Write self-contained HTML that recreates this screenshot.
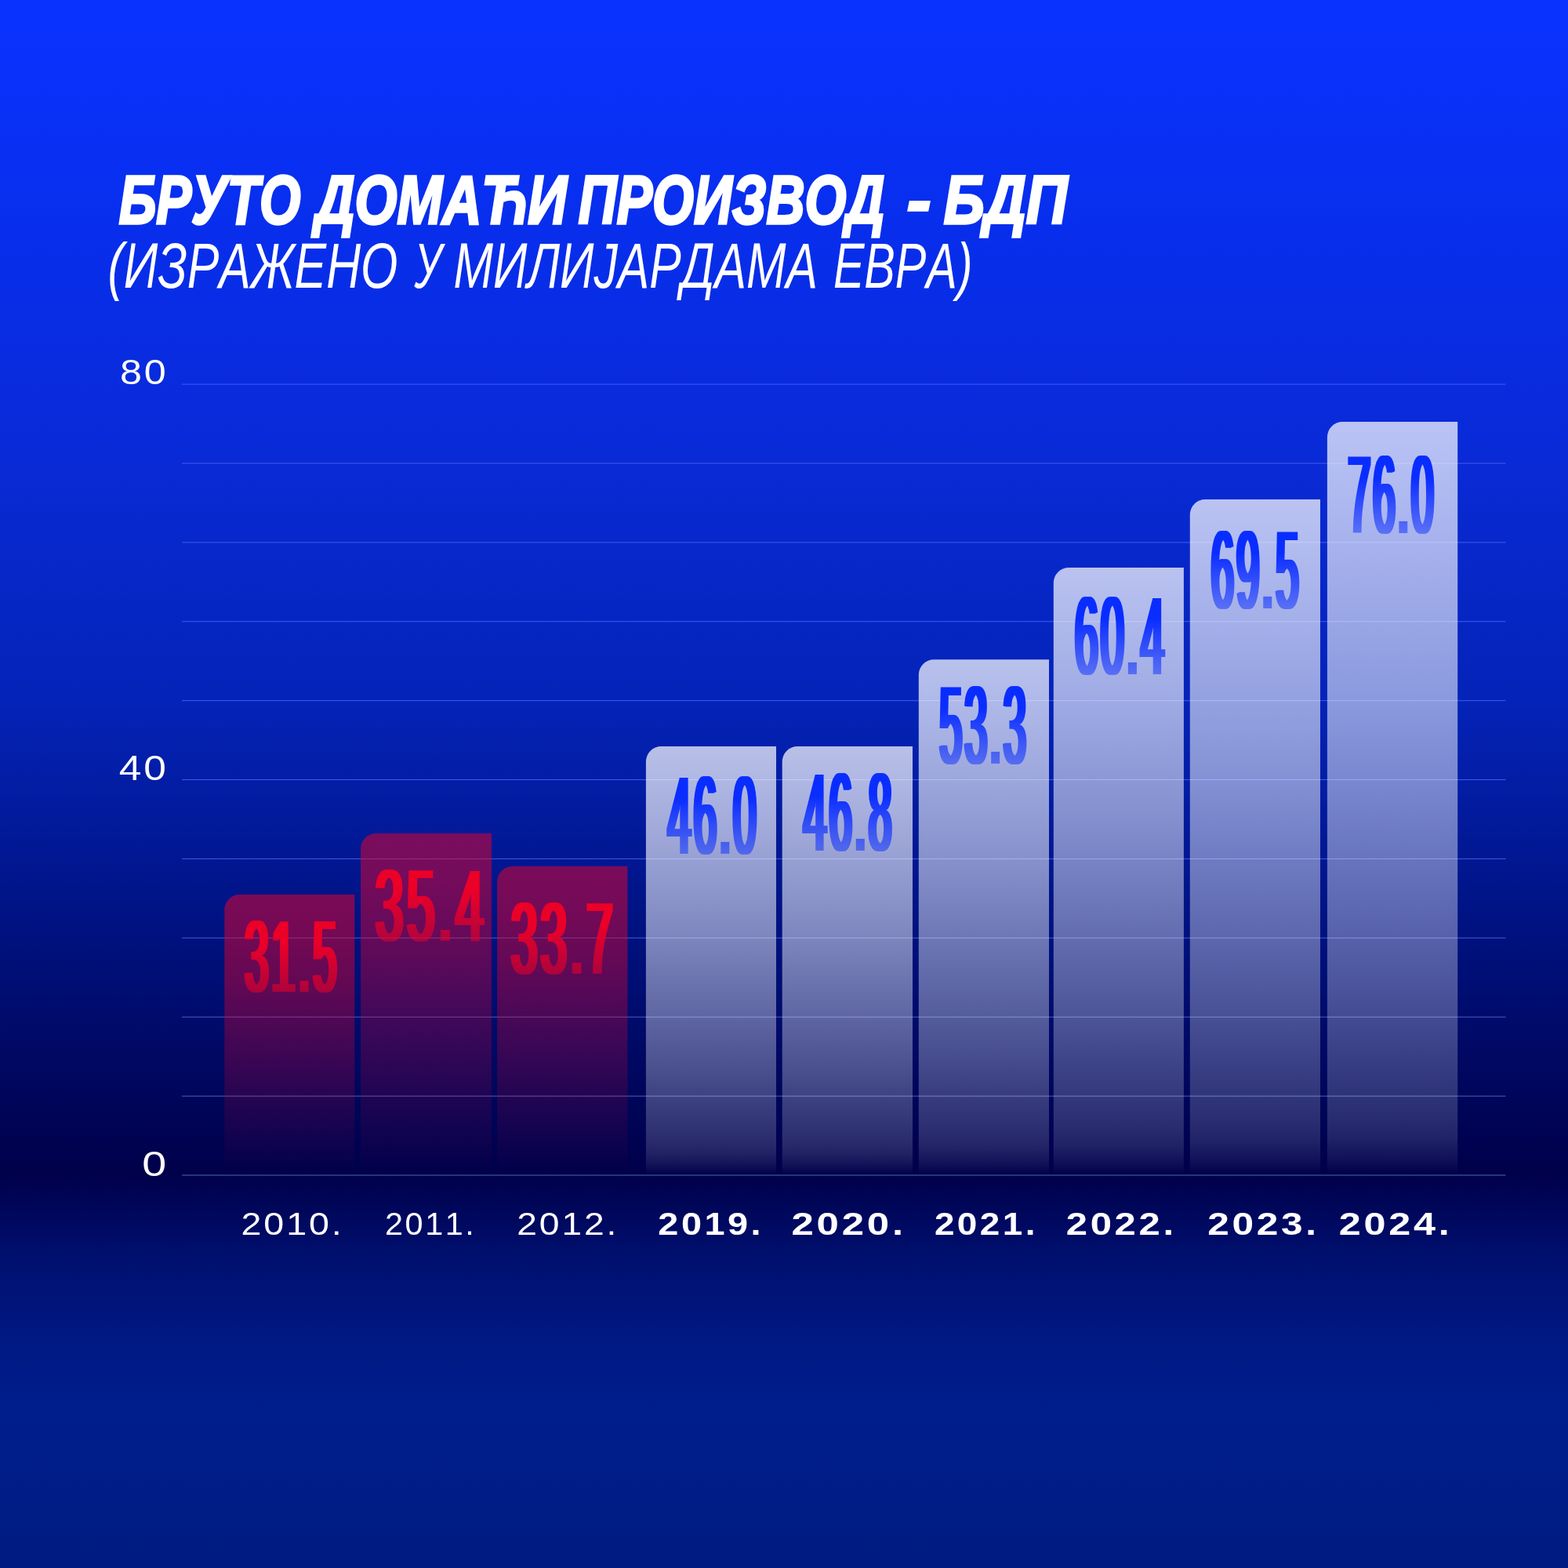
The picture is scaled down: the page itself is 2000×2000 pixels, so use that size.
<!DOCTYPE html>
<html lang="sr">
<head>
<meta charset="utf-8">
<title>Бруто домаћи производ - БДП</title>
<style>
html,body{margin:0;padding:0;width:2000px;height:2000px;background:#0a32ff;}body{position:relative;overflow:hidden;}
svg{display:block;position:absolute;left:0;top:0;}
text{font-family:"Liberation Sans",sans-serif;white-space:pre;font-kerning:none;font-variant-ligatures:none;}
.t{font-weight:700;font-style:italic;fill:#fff;stroke:#fff;stroke-width:3.40px;stroke-linejoin:miter;}
.s{font-weight:400;font-style:italic;fill:#fff;}
.yl{font-weight:400;fill:#fff;}
.xl{font-weight:400;fill:#fff;}
.xb{font-weight:700;fill:#fff;}
.n{font-weight:400;}
</style>
</head>
<body>
<svg width="2000" height="2000" viewBox="0 0 2000 2000" role="img" aria-label="Бруто домаћи производ - БДП (изражено у милијардама евра)">
<defs>
<linearGradient id="bg" gradientUnits="userSpaceOnUse" x1="0" y1="0" x2="0" y2="2000">
<stop offset="0.0000" stop-color="rgb(10,50,255)"/>
<stop offset="0.1500" stop-color="rgb(8,46,236)"/>
<stop offset="0.3000" stop-color="rgb(9,42,213)"/>
<stop offset="0.4500" stop-color="rgb(4,35,183)"/>
<stop offset="0.5250" stop-color="rgb(2,26,155)"/>
<stop offset="0.6000" stop-color="rgb(0,17,125)"/>
<stop offset="0.6750" stop-color="rgb(0,8,98)"/>
<stop offset="0.7485" stop-color="rgb(0,0,74)"/>
<stop offset="0.8000" stop-color="rgb(0,15,110)"/>
<stop offset="0.8500" stop-color="rgb(0,24,130)"/>
<stop offset="0.9000" stop-color="rgb(0,30,140)"/>
<stop offset="1.0000" stop-color="rgb(0,28,130)"/>
</linearGradient>
<linearGradient id="gb" x1="0" y1="0" x2="0" y2="1">
<stop offset="0.000" stop-color="#ffffff" stop-opacity="0.720"/>
<stop offset="0.200" stop-color="#ffffff" stop-opacity="0.625"/>
<stop offset="0.400" stop-color="#ffffff" stop-opacity="0.520"/>
<stop offset="0.750" stop-color="#ffffff" stop-opacity="0.295"/>
<stop offset="0.920" stop-color="#ffffff" stop-opacity="0.165"/>
<stop offset="0.950" stop-color="#ffffff" stop-opacity="0.130"/>
<stop offset="0.980" stop-color="#ffffff" stop-opacity="0.060"/>
<stop offset="1.000" stop-color="#ffffff" stop-opacity="0.000"/>
</linearGradient>
<linearGradient id="gr" x1="0" y1="0" x2="0" y2="1">
<stop offset="0.000" stop-color="#eb0028" stop-opacity="0.520"/>
<stop offset="0.150" stop-color="#eb0028" stop-opacity="0.490"/>
<stop offset="0.300" stop-color="#eb0028" stop-opacity="0.430"/>
<stop offset="0.420" stop-color="#eb0028" stop-opacity="0.355"/>
<stop offset="0.790" stop-color="#eb0028" stop-opacity="0.120"/>
<stop offset="1.000" stop-color="#eb0028" stop-opacity="0.000"/>
</linearGradient>
<linearGradient id="tb" gradientUnits="userSpaceOnUse" x1="0" y1="-100.0" x2="0" y2="0">
<stop offset="0.000" stop-color="#0a2dff" stop-opacity="1.000"/>
<stop offset="0.300" stop-color="#0a2dff" stop-opacity="1.000"/>
<stop offset="1.000" stop-color="#0a2dff" stop-opacity="0.500"/>
</linearGradient>
<linearGradient id="tr" gradientUnits="userSpaceOnUse" x1="0" y1="-92.0" x2="0" y2="0">
<stop offset="0.000" stop-color="#eb0028" stop-opacity="1.000"/>
<stop offset="0.300" stop-color="#eb0028" stop-opacity="1.000"/>
<stop offset="1.000" stop-color="#eb0028" stop-opacity="0.550"/>
</linearGradient>
<filter id="dil" x="-2%" y="-2%" width="104%" height="104%" color-interpolation-filters="sRGB"><feMorphology operator="dilate" radius="2.60 0"/></filter>
</defs>
<rect x="0" y="0" width="2000" height="2000" fill="url(#bg)"/>
<text class="t" y="285.30" font-size="86.63"><tspan x="151.64" textLength="231.76" lengthAdjust="spacingAndGlyphs">БРУТО</tspan> <tspan x="402.47" textLength="320.69" lengthAdjust="spacingAndGlyphs">ДОМАЋИ</tspan> <tspan x="737.84" textLength="390.59" lengthAdjust="spacingAndGlyphs">ПРОИЗВОД</tspan> <tspan x="1156.89" textLength="30.66" lengthAdjust="spacingAndGlyphs">-</tspan> <tspan x="1203.85" textLength="157.85" lengthAdjust="spacingAndGlyphs">БДП</tspan></text>
<text class="s" y="366.90" font-size="82.40"><tspan x="137.55" textLength="369.84" lengthAdjust="spacingAndGlyphs">(ИЗРАЖЕНО</tspan> <tspan x="528.48" textLength="34.98" lengthAdjust="spacingAndGlyphs">У</tspan> <tspan x="578.53" textLength="464.43" lengthAdjust="spacingAndGlyphs">МИЛИЈАРДАМА</tspan> <tspan x="1062.88" textLength="177.65" lengthAdjust="spacingAndGlyphs">ЕВРА)</tspan></text>
<g id="grid" fill-opacity="0.800">
<rect x="232.0" y="489.60" width="1688.5" height="1.00" fill="rgb(80,105,255)"/>
<rect x="232.0" y="590.49" width="1688.5" height="1.00" fill="rgb(80,105,255)"/>
<rect x="232.0" y="691.38" width="1688.5" height="1.00" fill="rgb(80,105,255)"/>
<rect x="232.0" y="792.27" width="1688.5" height="1.00" fill="rgb(80,105,255)"/>
<rect x="232.0" y="893.16" width="1688.5" height="1.00" fill="rgb(80,105,255)"/>
<rect x="232.0" y="994.05" width="1688.5" height="1.00" fill="rgb(80,105,255)"/>
<rect x="232.0" y="1094.94" width="1688.5" height="1.00" fill="rgb(80,106,245)"/>
<rect x="232.0" y="1195.83" width="1688.5" height="1.00" fill="rgb(81,109,230)"/>
<rect x="232.0" y="1296.72" width="1688.5" height="1.00" fill="rgb(88,116,215)"/>
<rect x="232.0" y="1397.61" width="1688.5" height="1.00" fill="rgb(94,123,200)"/>
<rect x="232.0" y="1498.50" width="1688.5" height="1.00" fill="rgb(100,130,187)"/>
</g>
<g id="bars">
<path d="M286.3 1498.5 V1160.5 A19.5 19.5 0 0 1 305.8 1141.0 H452.3 V1498.5 Z" fill="url(#gr)"/>
<path d="M460.1 1498.5 V1082.5 A19.5 19.5 0 0 1 479.6 1063.0 H626.9 V1498.5 Z" fill="url(#gr)"/>
<path d="M634.1 1498.5 V1124.5 A19.5 19.5 0 0 1 653.6 1105.0 H800.4 V1498.5 Z" fill="url(#gr)"/>
<path d="M823.9 1498.5 V971.6 A19.5 19.5 0 0 1 843.4 952.1 H990.0 V1498.5 Z" fill="url(#gb)"/>
<path d="M997.7 1498.5 V971.6 A19.5 19.5 0 0 1 1017.2 952.1 H1164.0 V1498.5 Z" fill="url(#gb)"/>
<path d="M1171.8 1498.5 V860.7 A19.5 19.5 0 0 1 1191.3 841.2 H1338.0 V1498.5 Z" fill="url(#gb)"/>
<path d="M1343.8 1498.5 V743.5 A19.5 19.5 0 0 1 1363.3 724.0 H1509.9 V1498.5 Z" fill="url(#gb)"/>
<path d="M1517.8 1498.5 V656.5 A19.5 19.5 0 0 1 1537.3 637.0 H1684.0 V1498.5 Z" fill="url(#gb)"/>
<path d="M1692.9 1498.5 V557.6 A19.5 19.5 0 0 1 1712.4 538.1 H1859.2 V1498.5 Z" fill="url(#gb)"/>
</g>
<g id="values" filter="url(#dil)">
<text class="n" transform="translate(312.33,1265.00) scale(0.4188,1)" font-size="130.00" letter-spacing="9.00" fill="url(#tr)">31.5</text>
<text class="n" transform="translate(478.86,1200.00) scale(0.4929,1)" font-size="130.00" letter-spacing="9.00" fill="url(#tr)">35.4</text>
<text class="n" transform="translate(651.91,1242.00) scale(0.4633,1)" font-size="130.00" letter-spacing="9.00" fill="url(#tr)">33.7</text>
<text class="n" transform="translate(852.09,1089.00) scale(0.3730,1)" font-size="141.20" letter-spacing="9.00" fill="url(#tb)">46.0</text>
<text class="n" transform="translate(1025.00,1085.00) scale(0.3717,1)" font-size="141.20" letter-spacing="9.00" fill="url(#tb)">46.8</text>
<text class="n" transform="translate(1198.54,974.00) scale(0.3649,1)" font-size="141.20" letter-spacing="9.00" fill="url(#tb)">53.3</text>
<text class="n" transform="translate(1371.00,860.00) scale(0.3769,1)" font-size="141.20" letter-spacing="9.00" fill="url(#tb)">60.4</text>
<text class="n" transform="translate(1544.85,775.80) scale(0.3699,1)" font-size="141.20" letter-spacing="9.00" fill="url(#tb)">69.5</text>
<text class="n" transform="translate(1719.79,680.00) scale(0.3601,1)" font-size="141.20" letter-spacing="9.00" fill="url(#tb)">76.0</text>
</g>
<g id="yaxis">
<text class="yl" transform="translate(153.01,489.60) scale(1.1490,1)" font-size="43.80" letter-spacing="2.50">80</text>
<text class="yl" transform="translate(151.72,994.60) scale(1.1752,1)" font-size="43.80" letter-spacing="2.50">40</text>
<text class="yl" transform="translate(181.23,1499.60) scale(1.2704,1)" font-size="43.80" letter-spacing="0.00">0</text>
</g>
<g id="xaxis">
<text class="xl" transform="translate(307.56,1575.20) scale(1.1530,1)" font-size="40.40" letter-spacing="2.50">2010.</text>
<text class="xl" transform="translate(491.02,1575.20) scale(1.0249,1)" font-size="40.40" letter-spacing="2.50">2011.</text>
<text class="xl" transform="translate(659.27,1575.20) scale(1.1445,1)" font-size="40.40" letter-spacing="2.50">2012.</text>
<text class="xb" transform="translate(839.37,1575.20) scale(1.1605,1)" font-size="40.40" letter-spacing="3.00">2019.</text>
<text class="xb" transform="translate(1009.43,1575.20) scale(1.2615,1)" font-size="40.40" letter-spacing="3.00">2020.</text>
<text class="xb" transform="translate(1191.91,1575.20) scale(1.1376,1)" font-size="40.40" letter-spacing="3.00">2021.</text>
<text class="xb" transform="translate(1359.70,1575.20) scale(1.2156,1)" font-size="40.40" letter-spacing="3.00">2022.</text>
<text class="xb" transform="translate(1540.28,1575.20) scale(1.2275,1)" font-size="40.40" letter-spacing="3.00">2023.</text>
<text class="xb" transform="translate(1707.65,1575.20) scale(1.2477,1)" font-size="40.40" letter-spacing="3.00">2024.</text>
</g>
</svg>
</body>
</html>
